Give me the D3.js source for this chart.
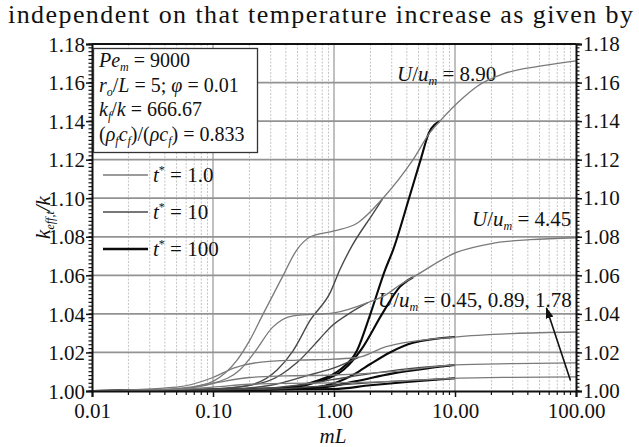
<!DOCTYPE html>
<html>
<head>
<meta charset="utf-8">
<script src="https://cdn.jsdelivr.net/npm/d3@7"></script>
<style>
  html, body { margin: 0; padding: 0; background: #fff; }
  svg { display: block; }
</style>
</head>
<body>
<svg id="chart" width="639" height="447"></svg>
<script>
const SERIF = "'Liberation Serif', 'Times New Roman', Times, serif";

// Axis ticks
const xTickValues = [0.01, 0.1, 1, 10, 100];
const xTickLabels = ["0.01", "0.10", "1.00", "10.00", "100.00"];
const yTickValues = [1.00, 1.02, 1.04, 1.06, 1.08, 1.10, 1.12, 1.14, 1.16, 1.18];
const yTickLabels = ["1.00", "1.02", "1.04", "1.06", "1.08", "1.10", "1.12", "1.14", "1.16", "1.18"];

// Dimensionless times (legend) and velocity ratios
const tStar = ["1.0", "10", "100"];
const velocityRatios = [0.45, 0.89, 1.78, 4.45, 8.90];

// k_eff,t/k against mL, one [mL, k] list per (U/u_m, t*).
// The t* = 10 and t* = 100 lists stop where they join the t* = 1.0 curve,
// which carries on to the common long-range value.
const u890_t1 = [[0.01,1.0],[0.03,1.0004],[0.05,1.0012],[0.08,1.003],[0.1,1.005],[0.158,1.016],[0.2,1.026],[0.26,1.040],[0.38,1.060],[0.49,1.073],[0.64,1.080],[1.0,1.083],[1.55,1.087],[2.54,1.100],[4.5,1.120],[6.2,1.134],[7.5,1.140],[11.6,1.152],[15.2,1.158],[25,1.1645],[50,1.1685],[100,1.1713]];
const u890_t10 = [[0.01,1.0],[0.05,1.0003],[0.1,1.001],[0.2,1.003],[0.34,1.011],[0.46,1.021],[0.64,1.037],[0.93,1.051],[1.12,1.063],[1.4,1.075],[2.1,1.092],[2.54,1.100]];
const u890_t100 = [[0.01,1.0],[0.1,1.0002],[0.3,1.001],[0.76,1.0057],[1.12,1.011],[1.55,1.021],[2.0,1.040],[2.65,1.063],[3.07,1.073],[4.17,1.100],[5.2,1.120],[6.1,1.134],[7.5,1.140]];

const u445_t1 = [[0.01,1.0],[0.05,1.001],[0.1,1.004],[0.167,1.011],[0.22,1.020],[0.31,1.033],[0.46,1.039],[1.0,1.0405],[1.9,1.0458],[2.7,1.050],[3.5,1.055],[4.5,1.059],[10.4,1.072],[20,1.0765],[41.7,1.0785],[100,1.0795]];
const u445_t10 = [[0.01,1.0],[0.1,1.001],[0.28,1.005],[0.5,1.015],[0.76,1.027],[0.93,1.033],[1.4,1.041],[1.9,1.0458]];
const u445_t100 = [[0.01,1.0],[0.3,1.0008],[0.76,1.005],[1.2,1.011],[1.7,1.022],[2.5,1.040],[3.5,1.054],[4.5,1.059]];

const u178_t1 = [[0.01,1.0],[0.05,1.002],[0.1,1.007],[0.15,1.012],[0.25,1.015],[0.5,1.016],[1.0,1.0165],[1.6,1.0175],[2.7,1.023],[10,1.028],[30,1.0298],[100,1.0306]];
const u178_t10 = [[0.01,1.0],[0.1,1.0005],[0.3,1.003],[0.6,1.008],[1.0,1.012],[1.6,1.0175]];
const u178_t100 = [[0.01,1.0],[0.5,1.001],[1.0,1.004],[1.5,1.009],[2.0,1.014],[2.9,1.020],[4.5,1.025],[10,1.028]];

const u089_t1 = [[0.01,1.0],[0.05,1.001],[0.1,1.004],[0.2,1.007],[0.4,1.0078],[1.0,1.0083],[3,1.010],[10,1.0135],[30,1.0142],[100,1.0146]];
const u089_t10 = [[0.01,1.0],[0.2,1.001],[0.5,1.003],[1.0,1.006],[2.0,1.009],[4,1.0115],[10,1.0135]];
const u089_t100 = [[0.01,1.0],[0.8,1.002],[1.5,1.005],[3,1.009],[6,1.0118],[10,1.0135]];

const u045_t1 = [[0.01,1.0],[0.05,1.0008],[0.1,1.002],[0.2,1.0035],[0.4,1.004],[1.0,1.0042],[3,1.005],[10,1.0066],[30,1.0071],[100,1.0073]];
const u045_t10 = [[0.01,1.0],[0.3,1.001],[1.0,1.003],[3,1.005],[10,1.0066]];
const u045_t100 = [[0.01,1.0],[1.0,1.001],[2,1.003],[4,1.0047],[10,1.0066]];

const seriesByT = [
  [u045_t1, u089_t1, u178_t1, u445_t1, u890_t1],
  [u045_t10, u089_t10, u178_t10, u445_t10, u890_t10],
  [u045_t100, u089_t100, u178_t100, u445_t100, u890_t100]
];

const lineStyles = [
  { stroke: "#7a7a7a", width: 1.3 },
  { stroke: "#4a4a4a", width: 1.4 },
  { stroke: "#0a0a0a", width: 2.1 }
];

const svg = d3.select("#chart").style("font-family", SERIF);
const margin = { left: 92, right: 63, top: 44, bottom: 56 };
const W = 639, H = 447;

const x = d3.scaleLog().domain([0.01, 100]).range([margin.left, W - margin.right]);
const y = d3.scaleLinear().domain([1.0, 1.18]).range([H - margin.bottom, margin.top]);

function txt(sel) {
  return sel.style("font-family", SERIF).attr("fill", "#111");
}

// Running text above the figure
txt(svg.append("text"))
  .attr("x", 8).attr("y", 23)
  .attr("textLength", 625).attr("lengthAdjust", "spacing")
  .style("font-size", "26px")
  .text("independent on that temperature increase as given by");

const grid = svg.append("g");
// Minor vertical grid (2..9 in each decade)
const minorX = [];
for (let d = 0.01; d < 99; d *= 10) for (let m = 2; m <= 9; m++) minorX.push(d * m);
grid.selectAll(".vminor").data(minorX).join("line")
  .attr("x1", d => x(d)).attr("x2", d => x(d))
  .attr("y1", y(1.18)).attr("y2", y(1.0))
  .attr("stroke", "#c4c4c4").attr("stroke-width", 1).attr("stroke-dasharray", "2,1.5");
grid.selectAll(".vmajor").data(xTickValues.slice(1, -1)).join("line")
  .attr("x1", d => x(d)).attr("x2", d => x(d))
  .attr("y1", y(1.18)).attr("y2", y(1.0))
  .attr("stroke", "#969696").attr("stroke-width", 1.2);
grid.selectAll(".hmajor").data(yTickValues.slice(1, -1)).join("line")
  .attr("x1", x(0.01)).attr("x2", x(100))
  .attr("y1", d => y(d)).attr("y2", d => y(d))
  .attr("stroke", "#939393").attr("stroke-width", 1.7);

// Helper for text with italic parts, subscripts and superscripts
function richText(g, xPos, yPos, parts, size) {
  const t = txt(g.append("text")).attr("x", xPos).attr("y", yPos).style("font-size", (size || 21) + "px");
  parts.forEach(p => {
    const s = t.append("tspan").text(p.t);
    if (p.i) s.style("font-style", "italic");
    if (p.sub) s.attr("dy", 4).style("font-size", "12px");
    if (p.sup) s.attr("dy", -8).style("font-size", "12px");
    if (p.back) s.attr("dy", p.back);
  });
  return t;
}

// Curve family labels (under the curves)
const labels = svg.append("g");
richText(labels, 397, 81, [{t:"U", i:1}, {t:"/"}, {t:"u", i:1}, {t:"m", i:1, sub:1}, {t:" = " + velocityRatios[4].toFixed(2), back:-4}]);
richText(labels, 472, 226, [{t:"U", i:1}, {t:"/"}, {t:"u", i:1}, {t:"m", i:1, sub:1}, {t:" = " + velocityRatios[3].toFixed(2), back:-4}]);
richText(labels, 378, 307, [{t:"U", i:1}, {t:"/"}, {t:"u", i:1}, {t:"m", i:1, sub:1},
  {t:" = " + velocityRatios.slice(0, 3).map(v => v.toFixed(2)).join(", "), back:-4}]);

// Curves
const line = d3.line().x(d => x(d[0])).y(d => y(d[1])).curve(d3.curveMonotoneX);
const curves = svg.append("g");
[2, 1, 0].forEach(ti => {
  seriesByT[ti].forEach(pts => {
    curves.append("path")
      .attr("d", line(pts))
      .attr("fill", "none")
      .attr("stroke", lineStyles[ti].stroke)
      .attr("stroke-width", lineStyles[ti].width)
      .attr("stroke-linejoin", "round");
  });
});

// Axes
const axisFont = "21px";
const minorY = d3.range(0, 91).map(i => 1 + i * 0.002);
const fmtY = (d) => yTickLabels[yTickValues.findIndex(v => Math.abs(v - d) < 1e-9)];

const leftAxis = svg.append("g").attr("transform", `translate(${x(0.01)},0)`)
  .call(d3.axisLeft(y).tickValues(yTickValues).tickFormat(fmtY).tickSize(6).tickPadding(1));
leftAxis.append("g").selectAll("line").data(minorY).join("line")
  .attr("x1", -3.5).attr("x2", 0).attr("y1", d => y(d)).attr("y2", d => y(d))
  .attr("stroke", "#111").attr("stroke-width", 1.2);

const rightAxis = svg.append("g").attr("transform", `translate(${x(100)},0)`)
  .call(d3.axisRight(y).tickValues(yTickValues).tickFormat(fmtY).tickSize(6).tickPadding(1));
rightAxis.append("g").selectAll("line").data(minorY).join("line")
  .attr("x1", 0).attr("x2", 3.5).attr("y1", d => y(d)).attr("y2", d => y(d))
  .attr("stroke", "#111").attr("stroke-width", 1.2);

const bottomAxis = svg.append("g").attr("transform", `translate(0,${y(1.0)})`)
  .call(d3.axisBottom(x).tickValues(xTickValues)
    .tickFormat((d, i) => xTickLabels[i]).tickSize(6).tickPadding(6));
bottomAxis.append("g").selectAll("line").data(minorX).join("line")
  .attr("x1", d => x(d)).attr("x2", d => x(d)).attr("y1", 0).attr("y2", 4)
  .attr("stroke", "#111").attr("stroke-width", 1.2);

[leftAxis, rightAxis, bottomAxis].forEach(g => {
  g.attr("font-family", null).attr("font-size", null);
  g.selectAll(".domain").attr("stroke", "#111").attr("stroke-width", 2);
  g.selectAll(".tick line").attr("stroke", "#111").attr("stroke-width", 1.5);
  g.selectAll("text").style("font-size", axisFont).style("font-family", SERIF).attr("fill", "#111");
});
leftAxis.selectAll(".tick text").attr("dy", "0.34em");
rightAxis.selectAll(".tick text").attr("dy", "0.32em");

// Top border
svg.append("line")
  .attr("x1", x(0.01)).attr("x2", x(100)).attr("y1", y(1.18)).attr("y2", y(1.18))
  .attr("stroke", "#111").attr("stroke-width", 2);

// Axis titles
txt(svg.append("text"))
  .attr("x", 333).attr("y", 443).attr("text-anchor", "middle")
  .style("font-size", "21px").style("font-style", "italic")
  .text("mL");

const yTitle = txt(svg.append("text"))
  .attr("transform", `translate(50,${y(1.09)}) rotate(-90)`)
  .attr("text-anchor", "middle")
  .style("font-size", "21px").style("font-style", "italic");
yTitle.append("tspan").text("k");
yTitle.append("tspan").attr("dy", 4).style("font-size", "12px").text("eff,t");
yTitle.append("tspan").attr("dy", -4).text("/k");

// Parameter box
svg.append("rect")
  .attr("x", 93.5).attr("y", 48.5).attr("width", 164).attr("height", 104)
  .attr("fill", "#fff").attr("stroke", "#333").attr("stroke-width", 1.3);

const box = svg.append("g");
richText(box, 99, 67, [{t:"Pe", i:1}, {t:"m", i:1, sub:1}, {t:" = 9000", back:-4}], 20);
richText(box, 99, 92, [{t:"r", i:1}, {t:"o", i:1, sub:1}, {t:"/", back:-4}, {t:"L", i:1}, {t:" = 5; "}, {t:"φ", i:1}, {t:" = 0.01"}], 20);
richText(box, 99, 116, [{t:"k", i:1}, {t:"f", i:1, sub:1}, {t:"/", back:-4}, {t:"k", i:1}, {t:" = 666.67"}], 20);
richText(box, 99, 141, [{t:"("}, {t:"ρ", i:1}, {t:"f", i:1, sub:1}, {t:"c", i:1, back:-4}, {t:"f", i:1, sub:1}, {t:")/(", back:-4}, {t:"ρc", i:1}, {t:"f", i:1, sub:1}, {t:") = 0.833", back:-4}], 20);

// Legend for t*
const legendY = [175, 212, 249];
tStar.forEach((lab, i) => {
  svg.append("line")
    .attr("x1", 103).attr("x2", 148).attr("y1", legendY[i]).attr("y2", legendY[i])
    .attr("stroke", lineStyles[i].stroke).attr("stroke-width", lineStyles[i].width + 0.3);
  richText(svg, 153, legendY[i] + 7, [{t:"t", i:1}, {t:"*", sup:1}, {t:" = " + lab, back:8}]);
});

// Arrow to the three low curves
svg.append("defs").append("marker")
  .attr("id", "head").attr("viewBox", "0 0 10 10").attr("refX", 9).attr("refY", 5)
  .attr("markerWidth", 7).attr("markerHeight", 7).attr("orient", "auto")
  .append("path").attr("d", "M0,1.5 L10,5 L0,8.5 Z").attr("fill", "#111");
svg.append("line")
  .attr("x1", x(90)).attr("y1", y(1.0055)).attr("x2", x(57)).attr("y2", y(1.043))
  .attr("stroke", "#111").attr("stroke-width", 1.6).attr("marker-end", "url(#head)");
</script>
</body>
</html>
